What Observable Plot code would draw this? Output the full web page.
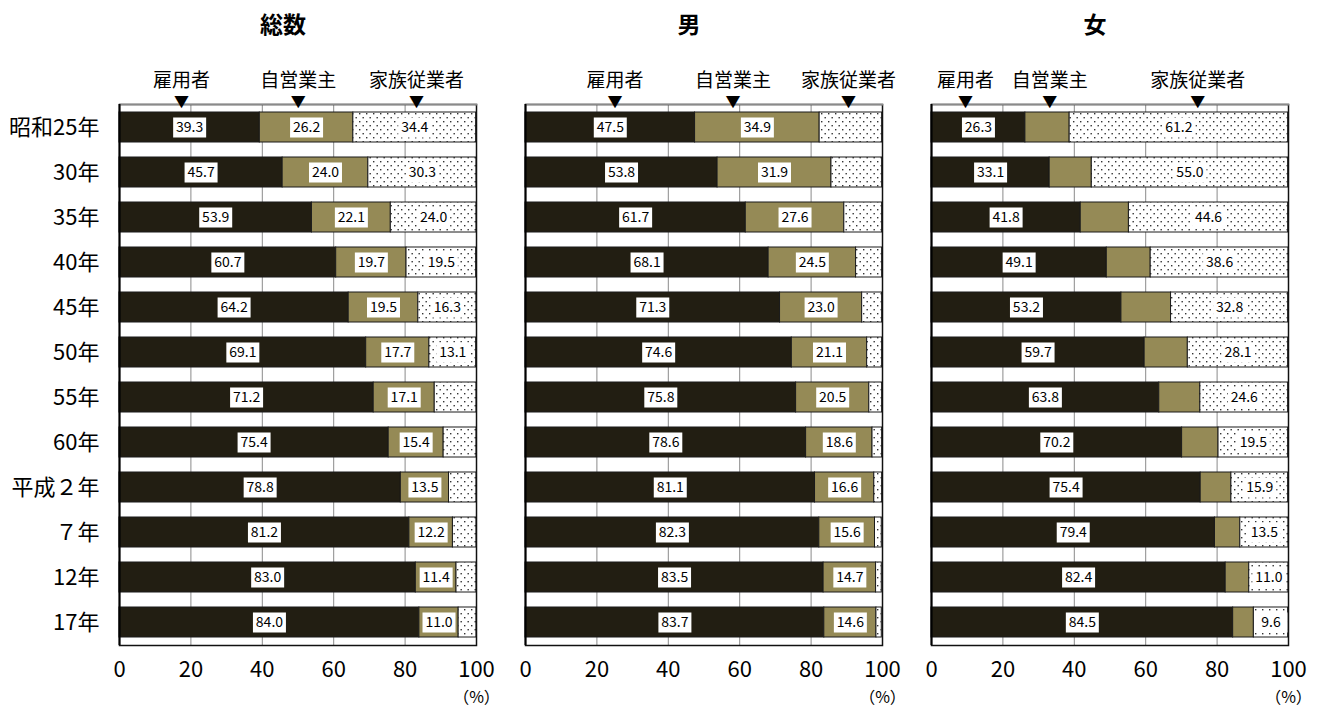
<!DOCTYPE html>
<html>
<head>
<meta charset="utf-8">
<script src="https://cdn.jsdelivr.net/npm/d3@7"></script>
<script src="https://cdn.jsdelivr.net/npm/@observablehq/plot@0.6"></script>
<style>
  body { margin: 0; background: #fff; }
</style>
</head>
<body>
<div id="chart"></div>
<script>
// Survey years (rows) and the three panels
const years = ["昭和25年", "30年", "35年", "40年", "45年", "50年", "55年", "60年", "平成２年", "７年", "12年", "17年"];
const panels = ["総数", "男", "女"];
const categories = ["雇用者", "自営業主", "家族従業者"];

// 総数 (%)
const totalEmployee = [39.3, 45.7, 53.9, 60.7, 64.2, 69.1, 71.2, 75.4, 78.8, 81.2, 83.0, 84.0];
const totalSelf     = [26.2, 24.0, 22.1, 19.7, 19.5, 17.7, 17.1, 15.4, 13.5, 12.2, 11.4, 11.0];
const totalFamily   = [34.4, 30.3, 24.0, 19.5, 16.3, 13.1, 11.7, 9.2, 7.7, 6.6, 5.6, 5.0];

// 男 (%)
const maleEmployee = [47.5, 53.8, 61.7, 68.1, 71.3, 74.6, 75.8, 78.6, 81.1, 82.3, 83.5, 83.7];
const maleSelf     = [34.9, 31.9, 27.6, 24.5, 23.0, 21.1, 20.5, 18.6, 16.6, 15.6, 14.7, 14.6];
const maleFamily   = [17.5, 14.2, 10.6, 7.3, 5.6, 4.2, 3.6, 2.7, 2.2, 1.9, 1.6, 1.5];

// 女 (%)
const femaleEmployee = [26.3, 33.1, 41.8, 49.1, 53.2, 59.7, 63.8, 70.2, 75.4, 79.4, 82.4, 84.5];
const femaleSelf     = [12.4, 11.8, 13.5, 12.3, 13.9, 12.1, 11.5, 10.2, 8.6, 7.1, 6.6, 5.8];
const femaleFamily   = [61.2, 55.0, 44.6, 38.6, 32.8, 28.1, 24.6, 19.5, 15.9, 13.5, 11.0, 9.6];

// How many leading rows of each series carry a value label
const labelledRows = {
  "総数": [12, 12, 6],
  "男":   [12, 12, 0],
  "女":   [12, 0, 12]
};

// Where the ▼ category pointers sit above each panel (x in %)
const pointerX = {
  "総数": [17.4, 50.1, 83.2],
  "男":   [25.1, 58.1, 90.5],
  "女":   [9.5, 33.1, 74.6]
};

const seriesByPanel = {
  "総数": [totalEmployee, totalSelf, totalFamily],
  "男":   [maleEmployee, maleSelf, maleFamily],
  "女":   [femaleEmployee, femaleSelf, femaleFamily]
};

const rows = [];
for (const panel of panels) {
  years.forEach((year, yi) => {
    categories.forEach((cat, ci) => {
      rows.push({
        panel, year, cat,
        value: seriesByPanel[panel][ci][yi],
        labelled: yi < labelledRows[panel][ci]
      });
    });
  });
}

const pointers = [];
for (const panel of panels) {
  categories.forEach((cat, ci) => pointers.push({panel, cat, x: pointerX[panel][ci]}));
}

// Layout
const width = 1320, height = 709;
const marginLeft = 118, marginRight = 30, marginTop = 104, marginBottom = 64;
const fxPadding = 0.12;
const panelWidth = (width - marginLeft - marginRight) / (panels.length - fxPadding) * (1 - fxPadding);
const panelHeight = height - marginTop - marginBottom;

// White label plate drawn behind each value
const plate = {draw(ctx) { ctx.rect(-16.5, -10, 33, 20); }};

const chart = Plot.plot({
  width, height, marginLeft, marginRight, marginTop, marginBottom,
  style: {fontFamily: "'Noto Sans CJK JP', sans-serif", background: "#fff", color: "#000"},
  fx: {domain: panels, paddingInner: fxPadding, paddingOuter: 0, label: null},
  x: {domain: [0, 100], label: null},
  y: {domain: years, paddingInner: 0.33, paddingOuter: 0.165, label: null},
  color: {domain: categories, range: ["#221e12", "#958a56", "url(#dots)"]},
  marks: [
    Plot.gridX({ticks: [20, 40, 60, 80], stroke: "#8a8a8a", strokeOpacity: 1, strokeWidth: 1}),
    Plot.barX(rows, Plot.stackX({
      x: "value", y: "year", fx: "panel", fill: "cat",
      stroke: "#1a1a1a", strokeWidth: 1
    })),
    Plot.frame({stroke: "#111", strokeWidth: 1.5}),
    // top edge of each panel is a lighter rule
    Plot.frame({stroke: "#8a8a8a", strokeWidth: 1.5,
      strokeDasharray: `${panelWidth} ${2 * (panelWidth + panelHeight) + 10}`}),
    Plot.ruleX([0], {stroke: "#000", strokeWidth: 2}),
    Plot.dot(rows, Plot.filter(d => d.labelled, Plot.stackX({
      x: "value", y: "year", fx: "panel", z: "cat",
      symbol: plate, r: 5, fill: "#fff", stroke: null
    }))),
    Plot.text(rows, Plot.filter(d => d.labelled, Plot.stackX({
      x: "value", y: "year", fx: "panel", z: "cat",
      text: d => d.value.toFixed(1),
      fontSize: 14, fill: "#000", letterSpacing: 0.8
    }))),
    Plot.text(pointers, {
      x: "x", fx: "panel", text: () => "▼",
      frameAnchor: "top", dy: -8, fontSize: 15, fill: "#000"
    }),
    Plot.text(pointers, {
      x: "x", fx: "panel", text: "cat",
      frameAnchor: "top", dy: -31, fontSize: 19, fill: "#000"
    }),
    Plot.text(panels, {
      fx: d => d, x: () => 100, text: () => "（%）",
      frameAnchor: "bottom", dy: 57, fontSize: 16, letterSpacing: 3, fill: "#000"
    }),
    Plot.axisY({tickSize: 0, tickPadding: 20, fontSize: 22, label: null}),
    Plot.axisX({ticks: [0, 20, 40, 60, 80, 100], tickSize: 0, tickPadding: 16,
      fontSize: 22, label: null}),
    Plot.axisFx({anchor: "top", tickSize: 0, tickPadding: 72, dx: -15,
      fontSize: 23, fontWeight: "bold", label: null})
  ]
});

// Dotted fill for 家族従業者
const ns = "http://www.w3.org/2000/svg";
const defs = document.createElementNS(ns, "defs");
defs.innerHTML = `
  <pattern id="dots" width="7" height="8" patternUnits="userSpaceOnUse">
    <rect width="7" height="8" fill="#fff"/>
    <rect x="1" y="1" width="1.4" height="1.4" fill="#333"/>
    <rect x="4.5" y="5" width="1.4" height="1.4" fill="#333"/>
  </pattern>`;
chart.prepend(defs);

document.getElementById("chart").appendChild(chart);
</script>
</body>
</html>
